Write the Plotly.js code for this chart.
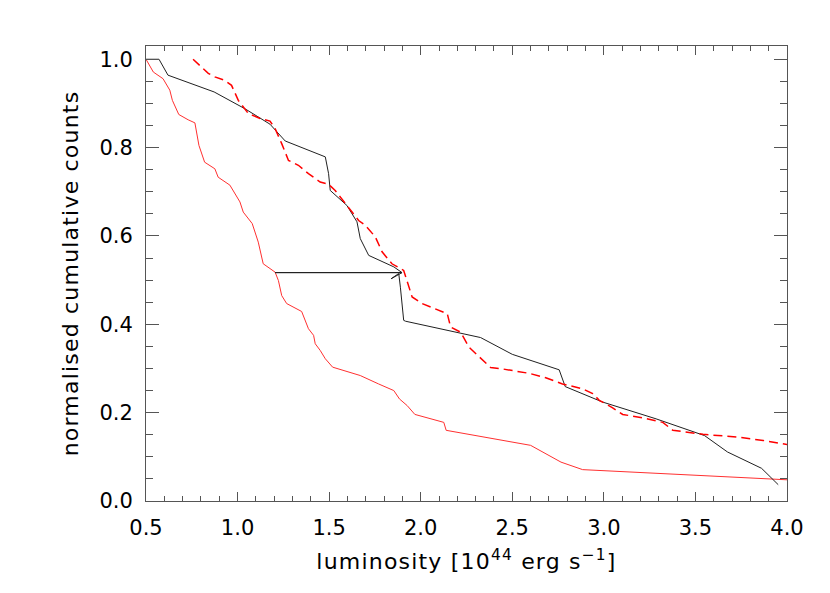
<!DOCTYPE html>
<html>
<head>
<meta charset="utf-8">
<script src="https://cdn.plot.ly/plotly-3.0.1.min.js"></script>
<style>
  html, body { margin: 0; padding: 0; background: #fff; }
  #chart { width: 830px; height: 593px; }
  .g-xtitle text, .g-ytitle text { letter-spacing: 1.2px; }
</style>
</head>
<body>
<div id="chart"></div>
<script>
// red solid curve
const redSolidX = [0.5, 0.54, 0.593, 0.63, 0.644, 0.679, 0.73, 0.767, 0.789, 0.82, 0.876, 0.894, 0.958, 1.013, 1.031, 1.08, 1.113, 1.14, 1.205, 1.223, 1.241, 1.268, 1.35, 1.387, 1.415, 1.424, 1.451, 1.479, 1.519, 1.67, 1.77, 1.853, 1.884, 1.926, 1.968, 2.126, 2.139, 2.6, 2.766, 2.884, 4.0];
const redSolidY = [1.0, 0.971, 0.956, 0.93, 0.907, 0.875, 0.863, 0.856, 0.805, 0.767, 0.752, 0.733, 0.715, 0.677, 0.654, 0.628, 0.586, 0.537, 0.518, 0.499, 0.465, 0.447, 0.429, 0.39, 0.375, 0.356, 0.341, 0.322, 0.303, 0.284, 0.265, 0.25, 0.231, 0.216, 0.196, 0.178, 0.16, 0.126, 0.088, 0.071, 0.048];

// black solid curve (keeps the out-of-order point as drawn)
const blackX = [0.5, 0.571, 0.62, 0.872, 1.04, 1.177, 1.26, 1.479, 1.497, 1.506, 1.597, 1.652, 1.67, 1.716, 1.853, 1.898, 1.205, 1.898, 1.838, 1.88, 1.889, 1.907, 1.917, 2.327, 2.5, 2.756, 2.789, 2.993, 3.285, 3.55, 3.675, 3.861, 3.952];
const blackY = [1.0, 1.0, 0.964, 0.926, 0.888, 0.853, 0.815, 0.779, 0.741, 0.703, 0.669, 0.632, 0.594, 0.556, 0.53, 0.517, 0.517, 0.517, 0.503, 0.515, 0.484, 0.409, 0.407, 0.37, 0.332, 0.297, 0.259, 0.224, 0.186, 0.148, 0.111, 0.074, 0.037];

// red dashed curve
const redDashX = [0.757, 0.84, 0.876, 0.931, 0.967, 1.004, 1.059, 1.123, 1.177, 1.205, 1.241, 1.278, 1.332, 1.387, 1.451, 1.497, 1.533, 1.606, 1.661, 1.697, 1.752, 1.789, 1.843, 1.907, 1.935, 1.953, 2.008, 2.099, 2.145, 2.163, 2.218, 2.264, 2.318, 2.382, 2.446, 2.592, 2.683, 2.774, 2.884, 2.939, 2.975, 3.048, 3.103, 3.213, 3.322, 3.377, 3.541, 3.724, 3.87, 4.0];
const redDashY = [1.0, 0.968, 0.96, 0.952, 0.941, 0.907, 0.877, 0.866, 0.86, 0.843, 0.809, 0.771, 0.76, 0.741, 0.722, 0.717, 0.703, 0.665, 0.635, 0.624, 0.598, 0.564, 0.537, 0.522, 0.484, 0.462, 0.447, 0.431, 0.424, 0.394, 0.382, 0.348, 0.326, 0.302, 0.299, 0.289, 0.279, 0.265, 0.254, 0.243, 0.228, 0.211, 0.196, 0.188, 0.178, 0.16, 0.151, 0.145, 0.137, 0.128];

const xTitle = 'luminosity [10<sup>44</sup> erg s<sup>−1</sup>]';
const yTitle = 'normalised cumulative counts';

const traces = [
    {
        x: redSolidX, y: redSolidY, type: 'scatter', mode: 'lines',
        line: { color: '#ff3030', width: 1 }
    },
    {
        x: blackX, y: blackY, type: 'scatter', mode: 'lines',
        line: { color: '#202020', width: 1 }
    },
    {
        x: redDashX, y: redDashY, type: 'scatter', mode: 'lines',
        line: { color: '#ff0000', width: 1.5, dash: '9px,5px' }
    }
];

const tickFont = { family: 'DejaVu Sans, sans-serif', size: 21, color: '#000' };

const layout = {
    width: 830,
    height: 593,
    margin: { l: 146, r: 43, t: 46, b: 92 },
    paper_bgcolor: '#fff',
    plot_bgcolor: '#fff',
    showlegend: false,
    xaxis: {
        range: [0.5, 4.0],
        tick0: 0.5,
        dtick: 0.5,
        tickformat: '.1f',
        ticks: 'inside',
        ticklen: 9,
        tickcolor: '#555',
        mirror: 'allticks',
        showline: true,
        linecolor: '#555',
        linewidth: 1,
        showgrid: false,
        zeroline: false,
        tickfont: tickFont,
        ticklabelstandoff: 8,
        minor: { ticks: 'inside', ticklen: 5, dtick: 0.1, tickcolor: '#555', showgrid: false },
        title: { text: xTitle, font: { family: 'DejaVu Sans, sans-serif', size: 22, color: '#000' }, standoff: 14 }
    },
    yaxis: {
        range: [0, 1.03],
        tick0: 0,
        dtick: 0.2,
        tickformat: '.1f',
        ticks: 'inside',
        ticklen: 13,
        tickcolor: '#555',
        mirror: 'allticks',
        showline: true,
        linecolor: '#555',
        linewidth: 1,
        showgrid: false,
        zeroline: false,
        tickfont: tickFont,
        ticklabelstandoff: 8,
        minor: { ticks: 'inside', ticklen: 7, dtick: 0.05, tickcolor: '#555', showgrid: false },
        title: { text: yTitle, font: { family: 'DejaVu Sans, sans-serif', size: 22, color: '#000' }, standoff: 14 }
    }
};

Plotly.newPlot('chart', traces, layout, { displayModeBar: false, staticPlot: true });
</script>
</body>
</html>
